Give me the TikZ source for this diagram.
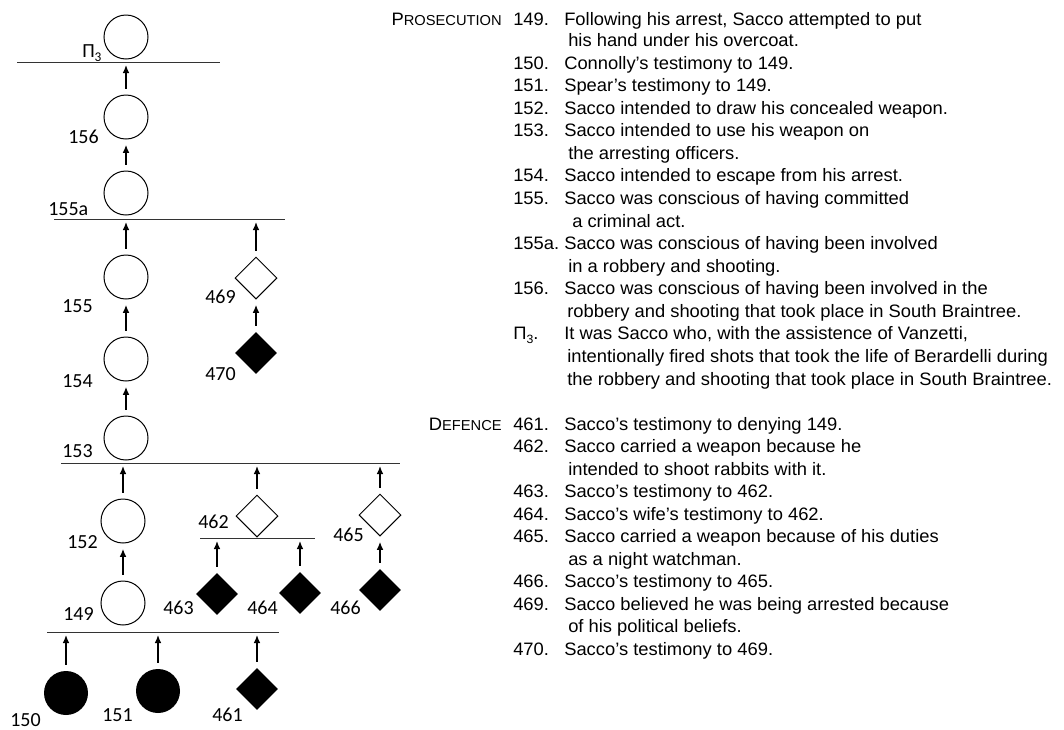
\documentclass[tikz,border=0pt]{standalone}
\usepackage{fontspec}
\usetikzlibrary{shapes.geometric,arrows.meta}
\newfontfamily\txtfont[FakeStretch=1.02]{Liberation Sans}
\newfontfamily\lblfont{Carlito}
\newcommand\fsc[2]{#1{\fontsize{10.8}{10}\selectfont #2}}
\begin{document}
\begin{tikzpicture}[x=0.75pt,y=-0.75pt,
  prop/.style={circle,draw,line width=0.75pt,minimum size=33pt,inner sep=0},
  evid/.style={circle,fill=black,minimum size=33pt,inner sep=0},
  dprop/.style={diamond,draw,line width=0.75pt,minimum size=31.5pt,inner sep=0},
  devid/.style={diamond,fill=black,minimum size=31.5pt,inner sep=0},
  bar/.style={line width=0.75pt,black!80},
  arr/.style={-{Latex[length=6pt,width=5pt]},line width=1pt,shorten <=4.5pt,shorten >=4pt},
  arrl/.style={arr,shorten >=2.25pt},
  lbl/.style={font=\lblfont\fontsize{15}{15}\selectfont,anchor=base west,inner sep=0},
  txt/.style={font=\txtfont\fontsize{13.5}{13.5}\selectfont,anchor=base west,inner sep=0},
  hdr/.style={font=\txtfont\fontsize{13.5}{13.5}\selectfont,anchor=base east,inner sep=0},
]
\useasboundingbox (0,0) rectangle (1064,729);

% ---------- nodes ----------
\node[prop] (P3) at (126,37) {};
\node[prop] (n156) at (126,117) {};
\node[prop] (n155a) at (126,193) {};
\node[prop] (n155) at (126,277) {};
\node[prop] (n154) at (126,359) {};
\node[prop] (n153) at (126,438) {};
\node[dprop] (n469) at (256,278) {};
\node[devid] (n470) at (256,353) {};
\node[prop] (n152) at (123,521) {};
\node[prop] (n149) at (123,603) {};
\node[dprop] (n462) at (257,516) {};
\node[devid] (n463) at (217,594) {};
\node[devid] (n464) at (300,593) {};
\node[dprop] (n465) at (380,515) {};
\node[devid] (n466) at (380,590) {};
\node[evid] (n150) at (66,693) {};
\node[evid] (n151) at (158,691) {};
\node[devid] (n461) at (257,689) {};

% ---------- bars ----------
\draw[bar] (17,62) coordinate (b1l) -- (220,62) coordinate (b1r);
\draw[bar] (54,219) coordinate (b2l) -- (285,219) coordinate (b2r);
\draw[bar] (61,463) coordinate (b3l) -- (400,463) coordinate (b3r);
\draw[bar] (47,632) coordinate (b4l) -- (279,632) coordinate (b4r);
\draw[bar] (200,538) coordinate (b5l) -- (315,538) coordinate (b5r);

\coordinate (c156) at (126,62);
\coordinate (c155) at (126,219);
\coordinate (c469) at (256,219);
\coordinate (c152) at (123,463);
\coordinate (c462) at (257,463);
\coordinate (c465) at (380,463);
\coordinate (c463) at (217,538);
\coordinate (c464) at (300,538);
\coordinate (c150) at (66,632);
\coordinate (c151) at (158,632);
\coordinate (c461) at (257,632);

% ---------- arrows ----------
\draw[arrl] (n156) -- (c156);
\draw[arr] (n155a) -- (n156);
\draw[arrl] (n155) -- (c155);
\draw[arr] (n154) -- (n155);
\draw[arr] (n153) -- (n154);
\draw[arrl] (n469) -- (c469);
\draw[arr] (n470) -- (n469);
\draw[arrl] (n152) -- (c152);
\draw[arrl] (n462) -- (c462);
\draw[arrl] (n465) -- (c465);
\draw[arr] (n149) -- (n152);
\draw[arrl] (n463) -- (c463);
\draw[arrl] (n464) -- (c464);
\draw[arr] (n466) -- (n465);
\draw[arrl] (n150) -- (c150);
\draw[arrl] (n151) -- (c151);
\draw[arrl] (n461) -- (c461);

% ---------- labels ----------
\node[lbl] (lP3) at (82,57) {Π\raisebox{-3pt}{\fontsize{10}{10}\selectfont 3}};
\node[lbl] (l156) at (68,143) {156};
\node[lbl] (l155a) at (48,215) {155a};
\node[lbl] (l155) at (62,312) {155};
\node[lbl] (l154) at (62,387) {154};
\node[lbl] (l153) at (62,457) {153};
\node[lbl] (l469) at (205,303) {469};
\node[lbl] (l470) at (205,380) {470};
\node[lbl] (l152) at (67,548) {152};
\node[lbl] (l149) at (63,620) {149};
\node[lbl] (l462) at (198,528) {462};
\node[lbl] (l465) at (333,541) {465};
\node[lbl] (l463) at (163,614) {463};
\node[lbl] (l464) at (247,614) {464};
\node[lbl] (l466) at (330,614) {466};
\node[lbl] (l150) at (10,726) {150};
\node[lbl] (l151) at (102,721) {151};
\node[lbl] (l461) at (212,721) {461};

% ---------- key: prosecution ----------
\node[hdr] (hP) at (502,25) {\fsc{P}{ROSECUTION}};
\node[txt] (k149) at (513,25) {149.};
\node[txt] (t149a) at (564,25) {Following his arrest, Sacco attempted to put};
\node[txt] (t149b) at (568,46.6) {his hand under his overcoat.};
\node[txt] (k150) at (513,69.1) {150.};
\node[txt] (t150) at (564,69.1) {Connolly’s testimony to 149.};
\node[txt] (k151) at (513,91.7) {151.};
\node[txt] (t151) at (564,91.7) {Spear’s testimony to 149.};
\node[txt] (k152) at (513,114.2) {152.};
\node[txt] (t152) at (564,114.2) {Sacco intended to draw his concealed weapon.};
\node[txt] (k153) at (513,136.8) {153.};
\node[txt] (t153a) at (564,136.8) {Sacco intended to use his weapon on};
\node[txt] (t153b) at (568,159.4) {the arresting officers.};
\node[txt] (k154) at (513,181.9) {154.};
\node[txt] (t154) at (564,181.9) {Sacco intended to escape from his arrest.};
\node[txt] (k155) at (513,204.5) {155.};
\node[txt] (t155a) at (564,204.5) {Sacco was conscious of having committed};
\node[txt] (t155b) at (572,227) {a criminal act.};
\node[txt] (k155a) at (513,249.6) {155a.};
\node[txt] (t155aa) at (564,249.6) {Sacco was conscious of having been involved};
\node[txt] (t155ab) at (568,272.2) {in a robbery and shooting.};
\node[txt] (k156) at (513,294.7) {156.};
\node[txt] (t156a) at (564,294.7) {Sacco was conscious of having been involved in the};
\node[txt] (t156b) at (567,317.3) {robbery and shooting that took place in South Braintree.};
\node[txt] (kP3) at (513,339.8) {Π\raisebox{-2.5pt}{\fontsize{9}{9}\selectfont 3}.};
\node[txt] (tP3a) at (564,339.8) {It was Sacco who, with the assistence of Vanzetti,};
\node[txt] (tP3b) at (567,362.4) {intentionally fired shots that took the life of Berardelli during};
\node[txt] (tP3c) at (567,385) {the robbery and shooting that took place in South Braintree.};

% ---------- key: defence ----------
\node[hdr] (hD) at (502,430) {\fsc{D}{EFENCE}};
\node[txt] (k461) at (513,430) {461.};
\node[txt] (t461) at (564,430) {Sacco’s testimony to denying 149.};
\node[txt] (k462) at (513,452.5) {462.};
\node[txt] (t462a) at (564,452.5) {Sacco carried a weapon because he};
\node[txt] (t462b) at (568,475) {intended to shoot rabbits with it.};
\node[txt] (k463) at (513,497.5) {463.};
\node[txt] (t463) at (564,497.5) {Sacco’s testimony to 462.};
\node[txt] (k464) at (513,520) {464.};
\node[txt] (t464) at (564,520) {Sacco’s wife’s testimony to 462.};
\node[txt] (k465) at (513,542.5) {465.};
\node[txt] (t465a) at (564,542.5) {Sacco carried a weapon because of his duties};
\node[txt] (t465b) at (568,565) {as a night watchman.};
\node[txt] (k466) at (513,587.5) {466.};
\node[txt] (t466) at (564,587.5) {Sacco’s testimony to 465.};
\node[txt] (k469) at (513,610) {469.};
\node[txt] (t469a) at (564,610) {Sacco believed he was being arrested because};
\node[txt] (t469b) at (568,632.5) {of his political beliefs.};
\node[txt] (k470) at (513,655) {470.};
\node[txt] (t470) at (564,655) {Sacco’s testimony to 469.};
\end{tikzpicture}
\end{document}
